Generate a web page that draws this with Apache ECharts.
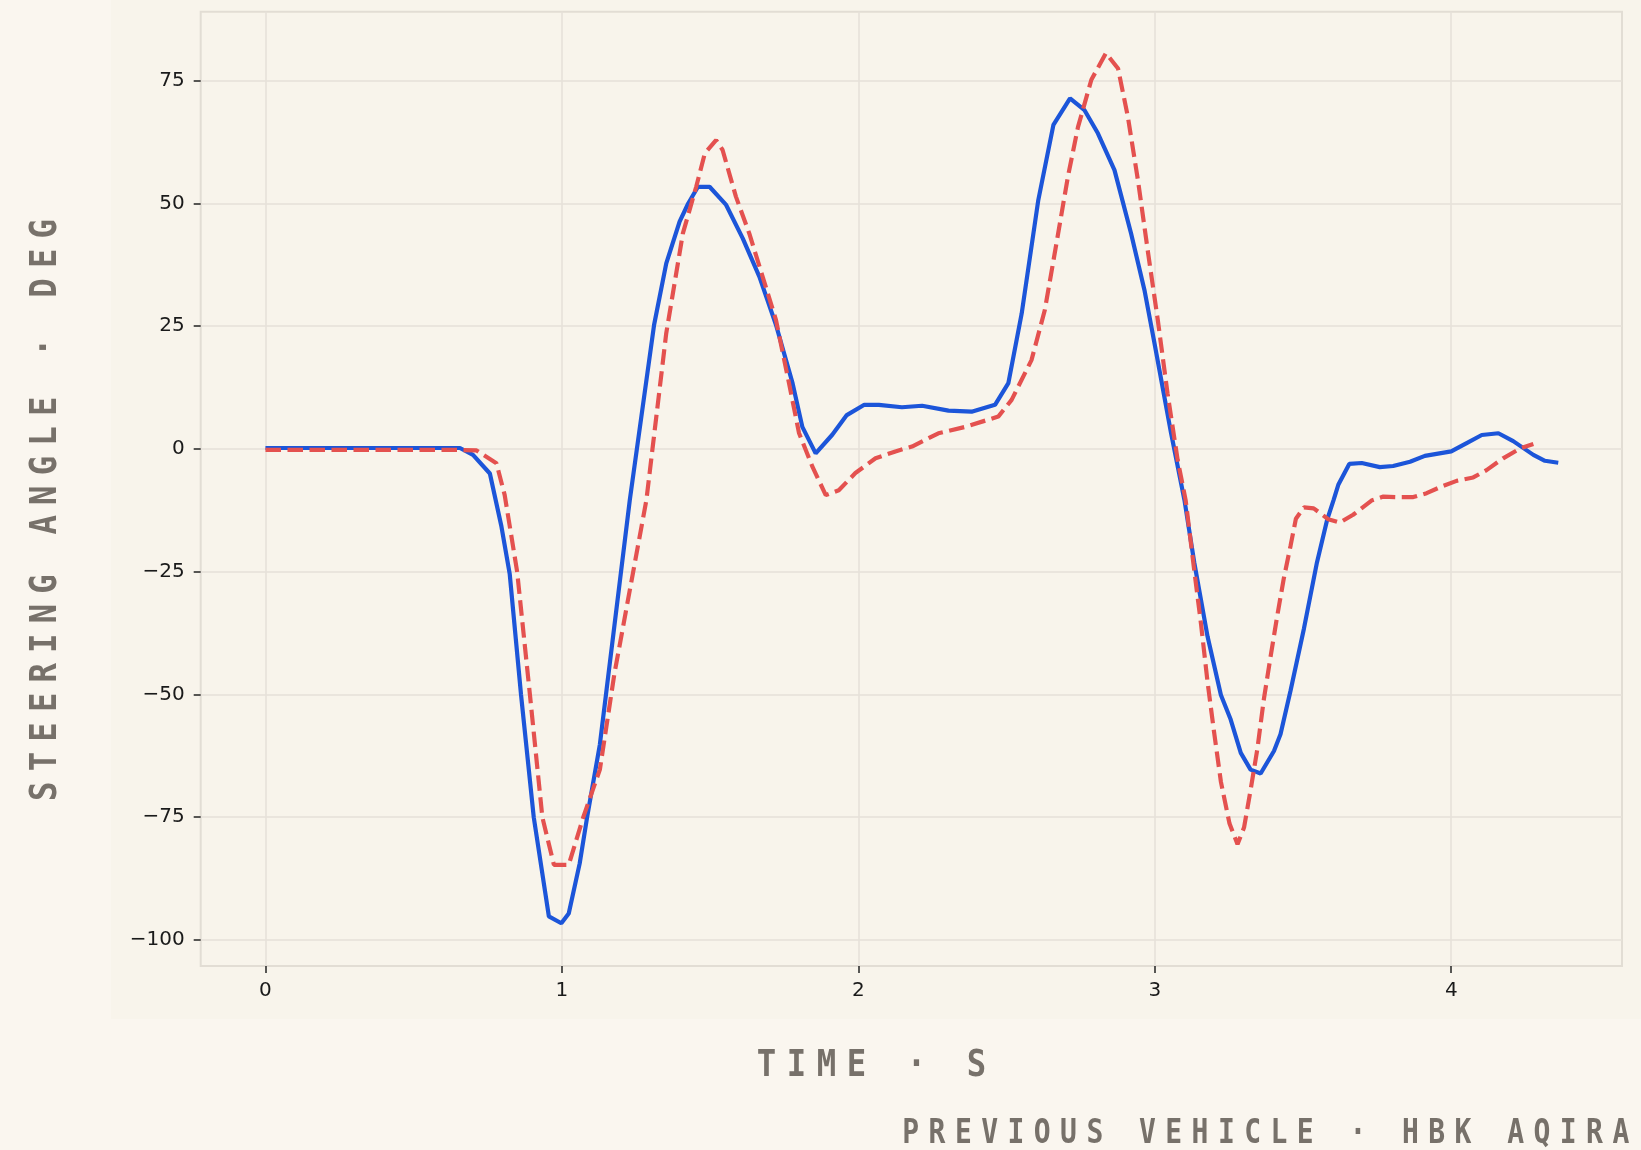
<!DOCTYPE html>
<html>
<head>
<meta charset="utf-8">
<script src="https://cdn.jsdelivr.net/npm/echarts@6/dist/echarts.min.js"></script>
<style>
html,body{margin:0;padding:0;background:#faf6ef;}
#chart{width:1641px;height:1150px;}
</style>
</head>
<body>
<div id="chart"></div>
<script>
// ---- data ----
const blueTime = [0, 0.33, 0.656, 0.70, 0.757, 0.796, 0.824, 0.862, 0.905, 0.956, 0.998, 1.023, 1.06, 1.085, 1.128, 1.229, 1.311, 1.352, 1.397, 1.426, 1.459, 1.498, 1.554, 1.61, 1.666, 1.722, 1.778, 1.811, 1.856, 1.912, 1.961, 2.02, 2.069, 2.147, 2.215, 2.304, 2.382, 2.461, 2.506, 2.551, 2.607, 2.658, 2.714, 2.763, 2.808, 2.864, 2.92, 2.965, 2.999, 3.055, 3.1, 3.133, 3.178, 3.223, 3.256, 3.29, 3.323, 3.357, 3.402, 3.424, 3.458, 3.503, 3.547, 3.581, 3.603, 3.619, 3.656, 3.698, 3.759, 3.804, 3.861, 3.911, 4.0, 4.052, 4.103, 4.159, 4.209, 4.277, 4.316, 4.361];
const blueAngle = [0.2, 0.2, 0.2, -1.2, -5, -15.8, -25.5, -50, -75, -95.2, -96.6, -94.6, -84.4, -75, -60.2, -10.4, 25.3, 37.8, 46.3, 50, 53.4, 53.4, 49.7, 42.9, 35.1, 25.3, 13.4, 4.5, -0.9, 2.9, 6.9, 9, 9, 8.5, 8.8, 7.8, 7.6, 9, 13.4, 27.6, 50.7, 66, 71.4, 69, 64.3, 56.8, 43.9, 32.4, 21.5, 3.2, -10.4, -23.1, -38.2, -50.1, -55.1, -61.9, -65.3, -66.1, -61.5, -58.1, -49.2, -36.6, -23.1, -14.5, -10.4, -7.3, -3.05, -2.85, -3.7, -3.46, -2.6, -1.4, -0.5, 1.2, 2.85, 3.2, 1.6, -1.2, -2.4, -2.8];

const redTime = [0, 0.33, 0.66, 0.712, 0.779, 0.807, 0.849, 0.892, 0.934, 0.973, 1.023, 1.072, 1.128, 1.177, 1.285, 1.352, 1.408, 1.453, 1.482, 1.52, 1.542, 1.587, 1.632, 1.677, 1.722, 1.766, 1.8, 1.845, 1.89, 1.934, 1.99, 2.058, 2.125, 2.181, 2.27, 2.36, 2.472, 2.517, 2.584, 2.629, 2.674, 2.707, 2.741, 2.786, 2.835, 2.876, 2.909, 2.943, 2.976, 3.01, 3.043, 3.077, 3.104, 3.133, 3.156, 3.178, 3.2, 3.223, 3.252, 3.279, 3.301, 3.323, 3.346, 3.368, 3.39, 3.413, 3.435, 3.458, 3.476, 3.503, 3.536, 3.585, 3.624, 3.669, 3.731, 3.771, 3.816, 3.872, 3.917, 3.973, 4.018, 4.074, 4.119, 4.175, 4.232, 4.277];
const redAngle = [-0.2, -0.2, -0.2, -0.3, -2.9, -9.4, -25, -50, -75, -84.7, -84.7, -75, -65.3, -45.8, -10.4, 23.6, 43.9, 53.4, 60.2, 62.9, 60.9, 51.4, 43.9, 35.1, 26.3, 13.4, 3.2, -3.6, -9.4, -8.4, -4.9, -1.9, -0.5, 0.5, 3.2, 4.5, 6.6, 10, 18.1, 28.3, 43.9, 55.5, 65.6, 75.2, 80.6, 77.5, 67.7, 54.8, 40.5, 26.3, 11.3, -2.2, -10.4, -24.7, -35.7, -47.5, -57.7, -67.8, -76.3, -80.5, -77.1, -69.5, -61.1, -50.9, -42.5, -34, -26.4, -19.7, -14.2, -11.9, -12.1, -14.3, -15, -13.4, -10.5, -9.7, -9.8, -9.8, -9, -7.5, -6.5, -5.8, -4.3, -1.9, 0.1, 1.0];

const xTicks = [0, 1, 2, 3, 4];
const yTicks = [-100, -75, -50, -25, 0, 25, 50, 75];
const xTitle = 'TIME · S';
const yTitle = 'STEERING ANGLE · DEG';
const footer = 'PREVIOUS VEHICLE · HBK AQIRA';

// ---- helpers ----
function spaced(text) {
  return text.split('').map(c => '{c|' + c + '}').join('');
}
const titleColor = '#77716a';
const monoFont = "'DejaVu Sans Mono', 'Liberation Mono', monospace";
const squeeze = 0.85;
function spacedText(text, size, pitch, x, y, rotation, align) {
  const w = pitch / squeeze;
  return {
    type: 'text', x: x, y: y, rotation: rotation || 0, scaleX: squeeze, scaleY: 1, z: 20,
    style: {
      text: spaced(text),
      fill: titleColor,
      fontFamily: monoFont, fontSize: size, fontWeight: 'bold',
      align: align || 'center', verticalAlign: 'middle',
      textAlign: align || 'center', textVerticalAlign: 'middle',
      rich: { c: { width: w, align: 'center', fontFamily: monoFont, fontSize: size, fontWeight: 'bold', fill: titleColor, color: titleColor } }
    }
  };
}
const minusFmt = v => String(v).replace('-', '\u2212');

const chart = echarts.init(document.getElementById('chart'));
chart.setOption({
  animation: false,
  backgroundColor: '#faf6ef',
  grid: {
    left: 200.7, right: 19, top: 11.7, bottom: 184,
    show: true, backgroundColor: '#f8f4eb', borderColor: '#e2ddd4', borderWidth: 2
  },
  xAxis: {
    type: 'value', min: -0.2185, max: 4.576,
    axisLine: { show: false, onZero: false },
    axisTick: { show: true, customValues: xTicks, length: 7, lineStyle: { color: '#222', width: 1.5 } },
    axisLabel: { customValues: xTicks, margin: 15, fontSize: 20, fontFamily: 'DejaVu Sans', color: '#1a1a1a', formatter: minusFmt },
    splitLine: { show: true, lineStyle: { color: '#e6e1d8', width: 1.5 } }
  },
  yAxis: {
    type: 'value', min: -105.3, max: 89.06,
    axisLine: { show: false, onZero: false },
    axisTick: { show: true, customValues: yTicks, length: 7, lineStyle: { color: '#222', width: 1.5 } },
    axisLabel: { customValues: yTicks, margin: 16, fontSize: 20, fontFamily: 'DejaVu Sans', color: '#1a1a1a', formatter: minusFmt },
    splitLine: { show: true, lineStyle: { color: '#e6e1d8', width: 1.5 } }
  },
  graphic: [
    { type: 'rect', z: -1, silent: true, shape: { x: 111, y: 0, width: 1530, height: 1019 }, style: { fill: '#f8f4eb' } },
    spacedText(xTitle, 38, 30, 871.5, 1066, 0, 'center'),
    spacedText(yTitle, 38, 29.6, 46, 510, Math.PI / 2, 'center'),
    spacedText(footer, 33, 26.3, 1634, 1134, 0, 'right')
  ],
  series: [
    {
      type: 'line', name: 'current', showSymbol: false, symbol: 'none', z: 3,
      data: blueTime.map((t, i) => [t, blueAngle[i]]),
      lineStyle: { color: '#1c55d9', width: 4.2 }
    },
    {
      type: 'line', name: 'previous', showSymbol: false, symbol: 'none', z: 4,
      data: redTime.map((t, i) => [t, redAngle[i]]),
      lineStyle: { color: '#e4514f', width: 4.2, type: [15.5, 6.5] }
    }
  ]
});
</script>
</body>
</html>
